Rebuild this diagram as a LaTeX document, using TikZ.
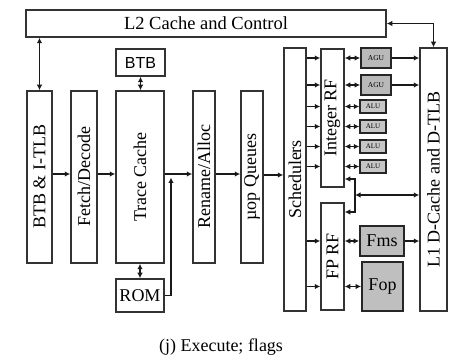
\documentclass[tikz,border=0pt]{standalone}
\usepackage{fontspec}
\setmainfont{Liberation Serif}
\newfontfamily\btbfont{Liberation Sans}
\usetikzlibrary{arrows.meta}
\begin{document}
\begin{tikzpicture}[x=1pt,y=-1pt,
  every node/.style={font=\fontsize{18}{20}\selectfont, text=black},
  box/.style={draw=black!80, line width=1.5pt, fill=white, inner sep=0pt},
  unit/.style={draw=black!85, line width=1.8pt, fill=gray!55, inner sep=0pt},
  alu/.style={draw=black!85, line width=1.5pt, fill=gray!45, inner sep=0pt, font=\fontsize{7}{8}\selectfont},
  vlab/.style={label={[rotate=90, font=\fontsize{18}{20}\selectfont]center:#1}},
  arr/.style={-{Latex[length=5.5pt,width=5.5pt]}, line width=1.4pt, draw=black!90},
  darr/.style={{Latex[length=5.5pt,width=5.5pt]}-{Latex[length=5.5pt,width=5.5pt]}, line width=1.4pt, draw=black!90}
]
\path[fill=white] (0,0) rectangle (453,358);
\useasboundingbox (0,0) rectangle (453,358);

% boxes
\node[box, minimum width=360pt, minimum height=27pt, font=\fontsize{18.5}{20}\selectfont] (l2) at (206,23.5) {L2 Cache and Control};
\node[box, minimum width=25pt, minimum height=172pt, vlab={BTB \& I-TLB}] (itlb) at (39.5,177) {};
\node[box, minimum width=26pt, minimum height=172pt, vlab={Fetch/Decode}] (fetch) at (84,177) {};
\node[box, minimum width=48pt, minimum height=172pt, vlab={Trace Cache}] (trace) at (140,177) {};
\node[box, minimum width=49pt, minimum height=27pt, font=\btbfont\fontsize{16}{18}\selectfont] (btb) at (140.5,62.5) {BTB};
\node[box, minimum width=48pt, minimum height=33pt] (rom) at (140,295.5) {ROM};
\node[box, minimum width=22pt, minimum height=172pt, vlab={Rename/Alloc}] (rename) at (204,177) {};
\node[box, minimum width=22pt, minimum height=172pt, vlab={µop Queues}] (uop) at (252,177) {};
\node[box, minimum width=22pt, minimum height=263pt, vlab={Schedulers}] (sched) at (295,179.5) {};
\node[box, minimum width=23pt, minimum height=138pt, vlab={Integer RF}] (intrf) at (332.5,118) {};
\node[box, minimum width=23pt, minimum height=107pt, vlab={FP RF}] (fprf) at (332.5,256.5) {};
\node[box, minimum width=27pt, minimum height=263pt, vlab={L1 D-Cache and D-TLB}] (l1) at (433.5,179.5) {};

\node[unit, minimum width=30pt, minimum height=20pt, font=\fontsize{7.5}{8}\selectfont] (agu1) at (376,58) {AGU};
\node[unit, minimum width=30pt, minimum height=20pt, font=\fontsize{7.5}{8}\selectfont] (agu2) at (376,85) {AGU};
\node[alu, minimum width=26pt, minimum height=13pt] (alu1) at (373,106.5) {ALU};
\node[alu, minimum width=26pt, minimum height=13pt] (alu2) at (373,126.5) {ALU};
\node[alu, minimum width=26pt, minimum height=13pt] (alu3) at (373,146.5) {ALU};
\node[alu, minimum width=26pt, minimum height=13pt] (alu4) at (373,166.5) {ALU};
\node[unit, fill=gray!50, minimum width=44pt, minimum height=30pt] (fms) at (382,241) {Fms};
\node[unit, fill=gray!50, minimum width=41pt, minimum height=49pt] (fop) at (382.5,286.5) {Fop};

\node (cap) at (221,347) {(j) Execute; flags};

% connectors
\draw[darr] (itlb.north) -- (itlb.north |- l2.south);
\draw[darr] (l2.east) -| (l1.north);
\draw[darr] (btb.south) -- (btb.south |- trace.north);
\draw[darr] (trace.south) -- (rom.north);
\draw[arr] (itlb.east |- 0,174) -- (fetch.west |- 0,174);
\draw[arr] (fetch.east |- 0,174) -- (trace.west |- 0,174);
\draw[arr] (trace.east |- 0,174) -- (rename.west |- 0,174);
\coordinate (romtip) at (171,177.5);
\draw[arr] (rom.east) -| (romtip);
\draw[arr] (rename.east |- 0,174) -- (uop.west |- 0,174);
\draw[arr] (uop.east |- 0,175) -- (sched.west |- 0,175);
\foreach \u in {agu1,agu2,alu1,alu2,alu3,alu4}{
  \draw[arr] (sched.east |- \u) -- (intrf.west |- \u);
  \draw[darr] (intrf.east |- \u) -- (\u.west);
}
\draw[arr] (agu1.east) -- (agu1.east -| l1.west);
\draw[arr] (agu2.east) -- (agu2.east -| l1.west);
\coordinate (bus) at (355,195);
\draw[arr] (bus) |- (intrf.east |- 0,179);
\draw[arr] (bus) |- (fprf.east |- 0,212);
\draw[darr] (bus) -- (bus -| l1.west);
\draw[arr] (sched.east |- fms) -- (fprf.west |- fms);
\draw[arr] (sched.east |- fop) -- (fprf.west |- fop);
\draw[darr] (fprf.east |- fms) -- (fms.west);
\draw[darr] (fprf.east |- fop) -- (fop.west);
\draw[arr] (fms.east) -- (fms.east -| l1.west);
\end{tikzpicture}
\end{document}
